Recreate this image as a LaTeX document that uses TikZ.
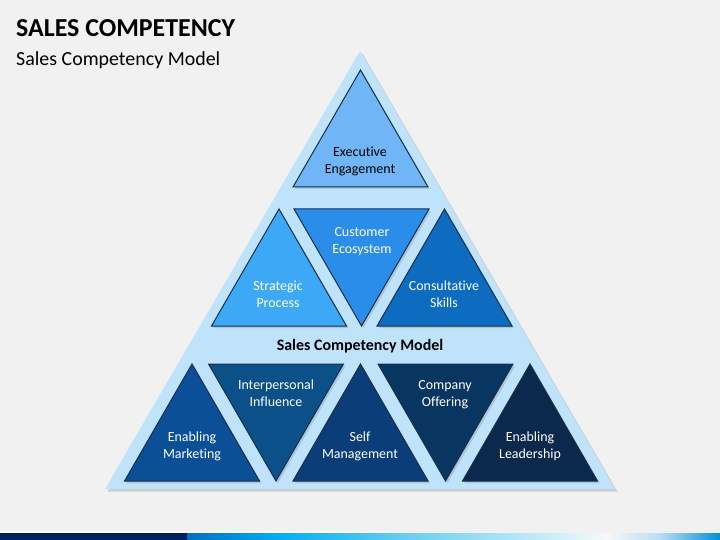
\documentclass[tikz,border=0pt]{standalone}
\usepackage{fontspec}
\setmainfont{Carlito}[Ligatures=NoCommon]
\usetikzlibrary{shadows}
\definecolor{bg}{HTML}{F1F1F1}
\definecolor{bigtri}{HTML}{BFE3FB}
\definecolor{edge}{HTML}{15304F}
\definecolor{cExec}{HTML}{70B5F5}
\definecolor{cStrat}{HTML}{3DA9F6}
\definecolor{cCust}{HTML}{2B8DEA}
\definecolor{cCons}{HTML}{0D6CC0}
\definecolor{cMark}{HTML}{0B4F97}
\definecolor{cInter}{HTML}{0B5088}
\definecolor{cSelf}{HTML}{0B3D78}
\definecolor{cComp}{HTML}{083660}
\definecolor{cLead}{HTML}{0B294C}
\definecolor{navy}{HTML}{002060}
\tikzset{
  tri/.style={draw=edge, line width=1bp, line join=miter,
    drop shadow={shadow xshift=2bp, shadow yshift=-2bp, opacity=0.3}},
  lbl/.style={align=center, text=white, font=\fontsize{14}{17}\selectfont, inner sep=0pt},
}
\newcommand\uptri[3]{\filldraw[tri, fill=#3] (#1,#2-117) -- (#1+67.5,#2) -- (#1-67.5,#2) -- cycle;}
\newcommand\dntri[3]{\filldraw[tri, fill=#3] (#1-67.5,#2) -- (#1+67.5,#2) -- (#1,#2+117) -- cycle;}
\begin{document}
\begin{tikzpicture}[x=1bp,y=-1bp]
\useasboundingbox (0,0) rectangle (720,540);
\fill[bg] (0,0) rectangle (720,540);
% titles
\node[anchor=base west, inner sep=0pt, font=\bfseries\fontsize{26}{30}\selectfont] (title) at (16,37) {SALES COMPETENCY};
\node[anchor=base west, inner sep=0pt, font=\fontsize{20}{23}\selectfont] (subtitle) at (16,66) {Sales Competency Model};
% big triangle
\fill[bigtri, drop shadow={shadow xshift=2.5bp, shadow yshift=-2.5bp, opacity=0.3}] (360,51) -- (615,489) -- (105,489) -- cycle;
% small triangles
\uptri{360.5}{187}{cExec}
\uptri{279}{326}{cStrat}
\dntri{361.5}{209}{cCust}
\uptri{444.5}{326}{cCons}
\uptri{192}{481}{cMark}
\dntri{276}{364}{cInter}
\uptri{360.5}{481}{cSelf}
\dntri{445.5}{364}{cComp}
\uptri{530}{481}{cLead}
% labels
\node[lbl, text=black] (exec) at (360,161) {Executive\\Engagement};
\node[lbl] (strat) at (278,294) {Strategic\\Process};
\node[lbl] (cust) at (362,242) {Customer\\Ecosystem};
\node[lbl] (cons) at (444,294) {Consultative\\Skills};
\node[lbl, text=black, font=\bfseries\fontsize{16}{19}\selectfont] (model) at (360,346) {Sales Competency Model};
\node[lbl] (mark) at (192,446) {Enabling\\Marketing};
\node[lbl] (inter) at (276,393) {Interpersonal\\Influence};
\node[lbl] (self) at (360,446) {Self\\Management};
\node[lbl] (comp) at (445,395) {Company\\Offering};
\node[lbl] (lead) at (530,446) {Enabling\\Leadership};
% bottom bar
\fill[white!70!bg] (0,531) rectangle (390,533);
\fill[navy] (0,533) rectangle (188,540);
\shade[left color={rgb,255:red,0;green,112;blue,192}, right color={rgb,255:red,0;green,176;blue,240}] (187.5,533) rectangle (280.5,540);
\shade[left color={rgb,255:red,0;green,176;blue,240}, right color={rgb,255:red,102;green,204;blue,240}] (280,533) rectangle (400.5,540);
\shade[left color={rgb,255:red,102;green,204;blue,240}, right color={rgb,255:red,208;green,240;blue,250}] (400,533) rectangle (560.5,540);
\shade[left color={rgb,255:red,208;green,240;blue,250}, right color={rgb,255:red,248;green,248;blue,248}] (560,533) rectangle (605.5,540);
\shade[left color={rgb,255:red,248;green,248;blue,248}, right color={rgb,255:red,184;green,221;blue,245}] (605,533) rectangle (660.5,540);
\shade[left color={rgb,255:red,184;green,221;blue,245}, right color={rgb,255:red,64;green,168;blue,224}] (660,533) rectangle (700.5,540);
\shade[left color={rgb,255:red,64;green,168;blue,224}, right color={rgb,255:red,0;green,144;blue,216}] (700,533) rectangle (720,540);
\end{tikzpicture}
\end{document}
